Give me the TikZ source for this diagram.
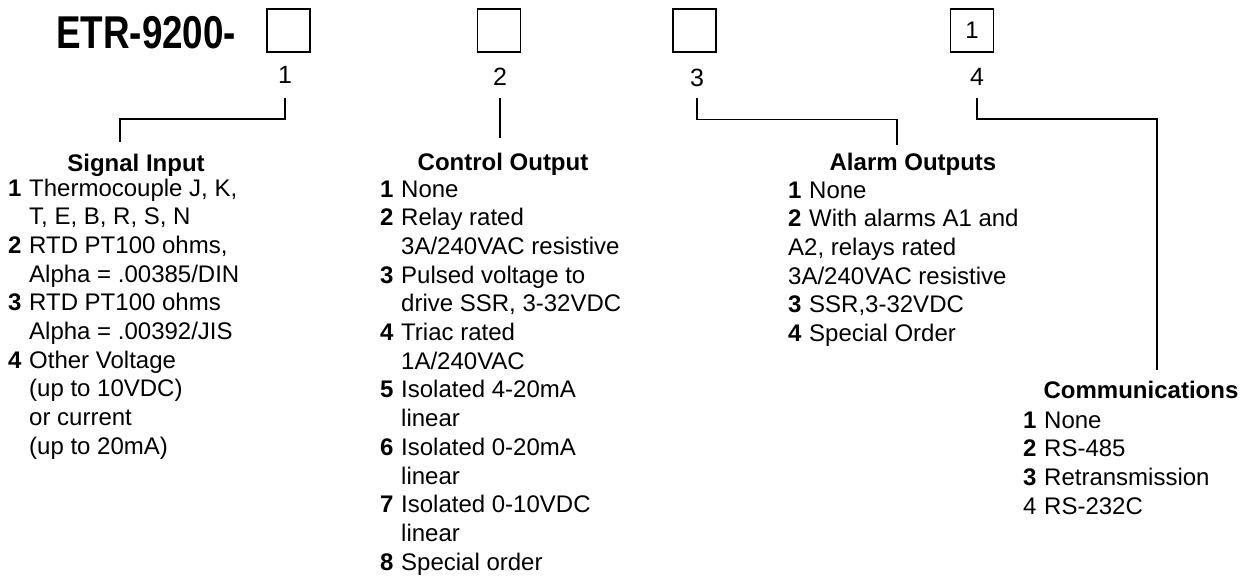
\documentclass[tikz,border=0pt]{standalone}
\usepackage{fontspec}
\setmainfont{Liberation Sans}
\usetikzlibrary{positioning}
\tikzset{
    codebox/.style={draw, line width=1.5pt, minimum size=43pt, inner sep=0pt, font=\fontsize{24}{27}\selectfont},
    codenum/.style={inner sep=0pt, anchor=base, font=\fontsize{25}{28}\selectfont},
    head/.style={inner sep=0pt, anchor=base, font=\fontsize{24}{28.7}\selectfont\bfseries},
    opts/.style={inner sep=0pt, anchor=base west, font=\fontsize{24}{28.7}\selectfont},
    link/.style={line width=1.8pt}
}
\newcommand{\itm}[1]{\makebox[21pt][l]{\textbf{#1}}}
\newcommand{\ind}{\hspace*{21pt}}

\begin{document}
\begin{tikzpicture}[x=1pt,y=-1pt]
\useasboundingbox (0,0) rectangle (1251,578);
% model code
\node[inner sep=0pt, anchor=base west, font=\fontsize{46}{50}\selectfont\bfseries] (title) at (56,49) {\scalebox{0.8}[1]{ETR-9200-}};
\node[codebox] (b1) at (288.5,30.5) {};
\node[codebox] (b2) at (499,30.5) {};
\node[codebox] (b3) at (694.5,30.5) {};
\node[codebox] (b4) at (972,30.5) {1};
\node[codenum] (n1) at (285,84) {1};
\node[codenum] (n2) at (500,85) {2};
\node[codenum] (n3) at (697,87) {3};
\node[codenum] (n4) at (977,85) {4};
% ends of the leaders
\coordinate (e1) at (120,142);
\coordinate (e2) at (500,138);
\coordinate (e3) at (897,145);
\coordinate (e4) at (1157,370);
\draw[link] (n1.south) ++(0,14) -- ++(0,21) -| (e1);
\draw[link] (n2.south) ++(0,13) -- (e2);
\draw[link] (n3.south) ++(0,11) -- ++(0,21) -| (e3);
\draw[link] (n4.south) ++(0,13) -- ++(0,21) -| (e4);
% option lists
\node[head] (h1) at (136,171) {Signal Input};
\node[head] (h2) at (503,170) {Control Output};
\node[head] (h3) at (913,170) {Alarm Outputs};
\node[head] (h4) at (1141,398) {Communications};
\node[opts] (o1) at (8,196) {\begin{tabular}[t]{@{}l@{}}
\itm{1}Thermocouple J, K,\\
\ind T, E, B, R, S, N\\
\itm{2}RTD PT100 ohms,\\
\ind Alpha = .00385/DIN\\
\itm{3}RTD PT100 ohms\\
\ind Alpha = .00392/JIS\\
\itm{4}Other Voltage\\
\ind (up to 10VDC)\\
\ind or current\\
\ind (up to 20mA)
\end{tabular}};
\node[opts] (o2) at (380,197) {\begin{tabular}[t]{@{}l@{}}
\itm{1}None\\
\itm{2}Relay rated\\
\ind 3A/240VAC resistive\\
\itm{3}Pulsed voltage to\\
\ind drive SSR, 3-32VDC\\
\itm{4}Triac rated\\
\ind 1A/240VAC\\
\itm{5}Isolated 4-20mA\\
\ind linear\\
\itm{6}Isolated 0-20mA\\
\ind linear\\
\itm{7}Isolated 0-10VDC\\
\ind linear\\
\itm{8}Special order
\end{tabular}};
\node[opts] (o3) at (788,198) {\begin{tabular}[t]{@{}l@{}}
\itm{1}None\\
\itm{2}With alarms A1 and\\
A2, relays rated\\
3A/240VAC resistive\\
\itm{3}SSR,3-32VDC\\
\itm{4}Special Order
\end{tabular}};
\node[opts] (o4) at (1023,428) {\begin{tabular}[t]{@{}l@{}}
\itm{1}None\\
\itm{2}RS-485\\
\itm{3}Retransmission\\
\makebox[21pt][l]{4}RS-232C
\end{tabular}};
\end{tikzpicture}
\end{document}
